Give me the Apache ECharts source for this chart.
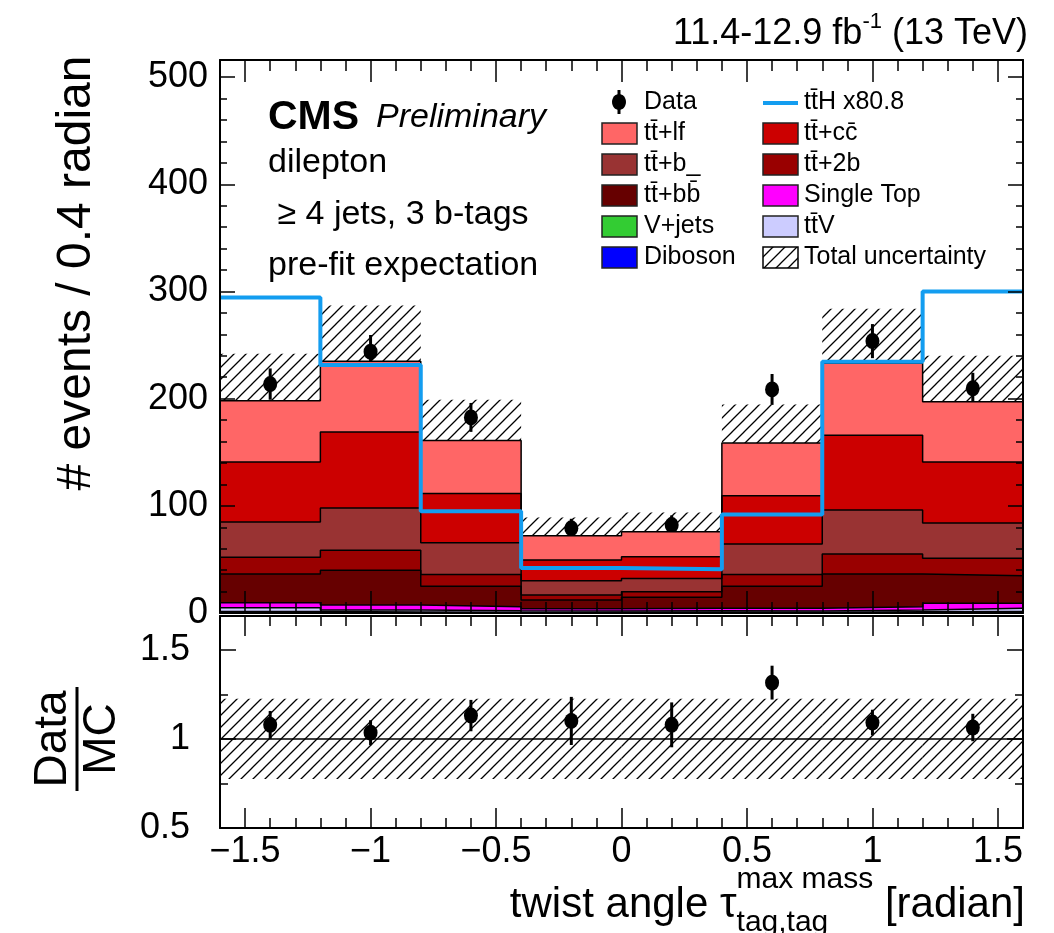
<!DOCTYPE html>
<html><head><meta charset="utf-8">
<script src="https://cdn.jsdelivr.net/npm/echarts@6/dist/echarts.min.js"></script>
<style>html,body{margin:0;padding:0;background:#fff}#c{width:1054px;height:933px}</style>
</head><body><div id="c"></div>
<script>
// ---------------- data ----------------
const binCenters = [-1.4, -1.0, -0.6, -0.2, 0.2, 0.6, 1.0, 1.4];
const binWidth = 0.4;
const diboson   = [0.3, 0.2, 0.2, 0.1, 0.1, 0.2, 0.2, 0.3];
const vjets     = [1.0, 0.8, 0.6, 0.6, 0.6, 0.6, 0.9, 1.1];
const ttV       = [3.5, 1.8, 1.4, 1.2, 1.4, 1.1, 1.7, 3.0];
const singleTop = [4.8, 4.7, 3.7, 2.0, 2.3, 2.5, 3.1, 4.6];
const ttbb      = [26.8, 32.3, 19.1, 8.2, 10.2, 20.6, 30.5, 25.8];
const tt2b      = [15.6, 18.7, 11.0, 4.7, 5.3, 11.0, 18.6, 16.2];
const ttb       = [33.0, 39.5, 29.6, 13.2, 12.4, 28.4, 41.0, 33.0];
const ttcc      = [56.0, 70.8, 46.0, 19.4, 20.2, 45.1, 69.8, 57.0];
const ttlf      = [57.0, 66.2, 49.4, 22.7, 23.3, 49.1, 67.2, 56.0];
const ttH80     = [294.5, 231.5, 95.0, 42.0, 40.8, 92.0, 234.5, 300.0];
const uncUp     = [44, 52, 38, 17, 18, 36, 51, 43];
const uncDown   = [44, 52, 38, 17, 18, 36, 51, 43];
const dataVals  = [213.6, 243.8, 182.5, 79.0, 82.0, 208.6, 253.7, 209.6];
const dataErr   = [14.6, 15.6, 13.5, 8.9, 9.1, 14.4, 15.9, 14.5];
const ratioVals = [1.079, 1.035, 1.131, 1.101, 1.079, 1.316, 1.092, 1.064];
const ratioErr  = [0.078, 0.070, 0.088, 0.135, 0.126, 0.095, 0.072, 0.077];
const ratioUnc  = [0.225, 0.225, 0.225, 0.225, 0.225, 0.225, 0.225, 0.225];
const xMajorTicks = [-1.5, -1, -0.5, 0, 0.5, 1, 1.5];
const yMainTicks = [0, 100, 200, 300, 400, 500];
const yRatioTicks = [0.5, 1, 1.5];

// ---------------- helpers ----------------
const FF = '"Liberation Sans", Arial, Helvetica, sans-serif';
const xMinorTicks = [];
for (let i = -16; i <= 16; i++) { if (i % 5 !== 0) xMinorTicks.push(i / 10); }
const binEdges = binCenters.map(c => +(c - binWidth / 2).toFixed(3)).concat([+(binCenters[binCenters.length - 1] + binWidth / 2).toFixed(3)]);
function stepData(vals) { return binEdges.map((e, i) => [e, vals[Math.min(i, vals.length - 1)]]); }

function hatchCanvas() {
  const c = document.createElement('canvas'); c.width = 12; c.height = 12;
  const g = c.getContext('2d');
  g.strokeStyle = '#000'; g.lineWidth = 1.3;
  g.beginPath();
  g.moveTo(-2, 14); g.lineTo(14, -2);
  g.moveTo(-2, 2); g.lineTo(2, -2);
  g.moveTo(10, 14); g.lineTo(14, 10);
  g.stroke();
  return c;
}
const hatch = { image: hatchCanvas(), repeat: 'repeat' };

const mctx = document.createElement('canvas').getContext('2d');
function tw(t, f) { mctx.font = f; return mctx.measureText(t).width; }

// stacked layers, bottom -> top
const layers = [
  { vals: diboson, color: '#0000FF' },
  { vals: vjets, color: '#33CC33' },
  { vals: ttV, color: '#CCCCFF' },
  { vals: singleTop, color: '#FF00FF' },
  { vals: ttbb, color: '#660000' },
  { vals: tt2b, color: '#990000' },
  { vals: ttb, color: '#993333' },
  { vals: ttcc, color: '#CC0000' },
  { vals: ttlf, color: '#FF6666' }
];
let cum = binCenters.map(() => 0);
layers.forEach(l => { cum = cum.map((v, i) => v + l.vals[i]); l.cum = cum.slice(); });
const total = cum;

const series = [];
layers.slice().reverse().forEach(l => {
  series.push({
    type: 'line', xAxisIndex: 0, yAxisIndex: 0, step: 'end', symbol: 'none',
    data: stepData(l.cum), silent: true,
    lineStyle: { color: '#000', width: 1.5 },
    areaStyle: { color: l.color, opacity: 1, origin: 'start' }
  });
});

function bandItem(params, api) {
  const c = api.value(0);
  const p0 = api.coord([c - binWidth / 2, api.value(2)]);
  const p1 = api.coord([c + binWidth / 2, api.value(1)]);
  return { type: 'rect', shape: { x: p0[0], y: p0[1], width: p1[0] - p0[0], height: p1[1] - p0[1] },
           style: { fill: hatch, stroke: null } };
}
function errItem(params, api) {
  const p0 = api.coord([api.value(0), api.value(1) - api.value(2)]);
  const p1 = api.coord([api.value(0), api.value(1) + api.value(2)]);
  return { type: 'line', shape: { x1: p0[0], y1: p0[1], x2: p1[0], y2: p1[1] },
           style: { stroke: '#000', lineWidth: 3 } };
}

// main hatch band
series.push({ type: 'custom', xAxisIndex: 0, yAxisIndex: 0, renderItem: bandItem, silent: true,
  data: binCenters.map((c, i) => [c, total[i] - uncDown[i], total[i] + uncUp[i]]) });
// ttH line
series.push({ type: 'line', xAxisIndex: 0, yAxisIndex: 0, step: 'end', symbol: 'none', silent: true,
  data: stepData(ttH80), lineStyle: { color: '#139DF0', width: 4 } });
// data error bars + points
series.push({ type: 'custom', xAxisIndex: 0, yAxisIndex: 0, renderItem: errItem, silent: true,
  data: binCenters.map((c, i) => [c, dataVals[i], dataErr[i]]) });
series.push({ type: 'scatter', xAxisIndex: 0, yAxisIndex: 0, symbol: 'circle', symbolSize: [14, 16], silent: true,
  itemStyle: { color: '#000', opacity: 1 }, data: binCenters.map((c, i) => [c, dataVals[i]]) });

// ratio panel
series.push({ type: 'custom', xAxisIndex: 4, yAxisIndex: 2, renderItem: bandItem, silent: true,
  data: binCenters.map((c, i) => [c, 1 - ratioUnc[i], 1 + ratioUnc[i]]) });
series.push({ type: 'line', xAxisIndex: 4, yAxisIndex: 2, symbol: 'none', silent: true,
  data: [[binEdges[0], 1], [binEdges[binEdges.length - 1], 1]], lineStyle: { color: '#000', width: 1.5 } });
series.push({ type: 'custom', xAxisIndex: 4, yAxisIndex: 2, renderItem: errItem, silent: true,
  data: binCenters.map((c, i) => [c, ratioVals[i], ratioErr[i]]) });
series.push({ type: 'scatter', xAxisIndex: 4, yAxisIndex: 2, symbol: 'circle', symbolSize: [14, 16], silent: true,
  itemStyle: { color: '#000', opacity: 1 }, data: binCenters.map((c, i) => [c, ratioVals[i]]) });

// ---------------- axes ----------------
const minusFmt = v => (v < 0 ? '\u2212' + String(Math.abs(v)) : String(v));
function xAx(grid, pos, ticks, len, showLine, showLabels) {
  return {
    type: 'value', gridIndex: grid, position: pos, min: binEdges[0], max: binEdges[binEdges.length - 1], z: 10,
    axisLine: { show: showLine, onZero: false, lineStyle: { color: '#000', width: 2 } },
    axisTick: { show: true, inside: true, length: len, customValues: ticks, lineStyle: { color: '#000', width: 1.5 } },
    axisLabel: showLabels ? { show: true, customValues: xMajorTicks, formatter: minusFmt, fontSize: 36, fontFamily: FF, color: '#000', margin: 6 } : { show: false },
    splitLine: { show: false }
  };
}
function yAx(grid, pos, min, max, interval, len, minorLen, minorSplit, showLabels, margin) {
  return {
    type: 'value', gridIndex: grid, position: pos, min: min, max: max, interval: interval, z: 10,
    axisLine: { show: true, onZero: false, lineStyle: { color: '#000', width: 2 } },
    axisTick: { show: true, inside: true, length: len, lineStyle: { color: '#000', width: 1.5 } },
    minorTick: { show: true, splitNumber: minorSplit, length: minorLen, lineStyle: { color: '#000', width: 1.5 } },
    axisLabel: showLabels ? { show: true, showMaxLabel: false, fontSize: 36, fontFamily: FF, color: '#000', margin: margin, formatter: v => String(v) } : { show: false },
    splitLine: { show: false }
  };
}

const xAxes = [
  xAx(0, 'bottom', xMajorTicks, 22, true, false),
  xAx(0, 'bottom', xMinorTicks, 11, false, false),
  xAx(0, 'top', xMajorTicks, 22, true, false),
  xAx(0, 'top', xMinorTicks, 11, false, false),
  xAx(1, 'bottom', xMajorTicks, 20, true, true),
  xAx(1, 'bottom', xMinorTicks, 10, false, false),
  xAx(1, 'top', xMajorTicks, 20, true, false),
  xAx(1, 'top', xMinorTicks, 10, false, false)
];
const yAxes = [
  yAx(0, 'left', yMainTicks[0], 516, 100, 15, 7, 5, true, 12),
  yAx(0, 'right', yMainTicks[0], 516, 100, 15, 7, 5, false, 0),
  yAx(1, 'left', yRatioTicks[0], 1.69, 0.5, 16, 8, 2, true, 30),
  yAx(1, 'right', yRatioTicks[0], 1.69, 0.5, 16, 8, 2, false, 0)
];

// ---------------- texts & legend ----------------
const graphic = [];
function txt(x, y, text, font, align, rot) {
  graphic.push({ type: 'text', x: x, y: y, rotation: rot || 0, z: 100,
    style: { text: text, font: font, fill: '#000', align: align || 'left', verticalAlign: 'middle' } });
}
// top-right title
{
  const fM = '36px ' + FF, fS = '22px ' + FF;
  const p1 = '11.4-12.9 fb', ps = '-1', p3 = ' (13 TeV)';
  const x3 = 1028 - tw(p3, fM), xs = x3 - tw(ps, fS), x1 = xs - tw(p1, fM);
  txt(x1, 34, p1, fM); txt(xs, 22, ps, fS); txt(x3, 34, p3, fM);
}
// CMS block
txt(268, 118, 'CMS', 'bold 41px ' + FF);
txt(376, 118, 'Preliminary', 'italic 34px ' + FF);
txt(268, 163, 'dilepton', '34px ' + FF);
txt(268, 215, ' \u2265 4 jets, 3 b-tags', '34px ' + FF);
txt(268, 266, 'pre-fit expectation', '34px ' + FF);
// y titles
txt(77, 273, '# events / 0.4 radian', '48px ' + FF, 'center', Math.PI / 2);
txt(53, 739, 'Data', '46px ' + FF, 'center', Math.PI / 2);
txt(102, 739, 'MC', '46px ' + FF, 'center', Math.PI / 2);
graphic.push({ type: 'line', z: 100, shape: { x1: 77, y1: 687, x2: 77, y2: 791 }, style: { stroke: '#000', lineWidth: 3 } });
// x title
{
  const fM = '42px ' + FF, fS = '30px ' + FF;
  const pA = 'twist angle \u03C4', pSup = 'max mass', pSub = 'tag,tag', pB = ' [radian]';
  const xB = 1025 - tw(pB, fM);
  const wS = Math.max(tw(pSup, fS), tw(pSub, fS));
  const xS = xB - wS, xA = xS - tw(pA, fM);
  txt(xA, 905, pA, fM); txt(xS, 880, pSup, fS); txt(xS, 923, pSub, fS); txt(xB, 905, pB, fM);
}
// legend
const legendCol1 = [['Data', 'data'], ['tt\u0304+lf', '#FF6666'], ['tt\u0304+b_', '#993333'], ['tt\u0304+bb\u0304', '#660000'], ['V+jets', '#33CC33'], ['Diboson', '#0000FF']];
const legendCol2 = [['tt\u0304H x80.8', 'tth'], ['tt\u0304+cc\u0304', '#CC0000'], ['tt\u0304+2b', '#990000'], ['Single Top', '#FF00FF'], ['tt\u0304V', '#CCCCFF'], ['Total uncertainty', 'hatch']];
function legendCol(items, bx, tx) {
  items.forEach((it, i) => {
    const y = 102 + 31 * i;
    if (it[1] === 'data') {
      graphic.push({ type: 'line', z: 100, shape: { x1: bx + 17, y1: y - 12, x2: bx + 17, y2: y + 12 }, style: { stroke: '#000', lineWidth: 3 } });
      graphic.push({ type: 'ellipse', z: 101, shape: { cx: bx + 17, cy: y, rx: 7, ry: 8 }, style: { fill: '#000' } });
    } else if (it[1] === 'tth') {
      graphic.push({ type: 'line', z: 100, shape: { x1: bx, y1: y + 1, x2: bx + 35, y2: y + 1 }, style: { stroke: '#139DF0', lineWidth: 4 } });
    } else if (it[1] === 'hatch') {
      graphic.push({ type: 'rect', z: 100, shape: { x: bx, y: y - 10, width: 35, height: 21 }, style: { fill: hatch, stroke: '#000', lineWidth: 1.5 } });
    } else {
      graphic.push({ type: 'rect', z: 100, shape: { x: bx, y: y - 10, width: 35, height: 21 }, style: { fill: it[1], stroke: '#222', lineWidth: 1.5 } });
    }
    txt(tx, y, it[0], '25px ' + FF);
  });
}
legendCol(legendCol1, 602, 644);
legendCol(legendCol2, 763, 804);

const chart = echarts.init(document.getElementById('c'), null, { renderer: 'canvas' });
chart.setOption({
  animation: false,
  backgroundColor: '#fff',
  grid: [{ left: 220, right: 31, top: 60, height: 553 }, { left: 220, right: 31, top: 616, height: 212 }],
  xAxis: xAxes,
  yAxis: yAxes,
  series: series,
  graphic: graphic
});
</script></body></html>
